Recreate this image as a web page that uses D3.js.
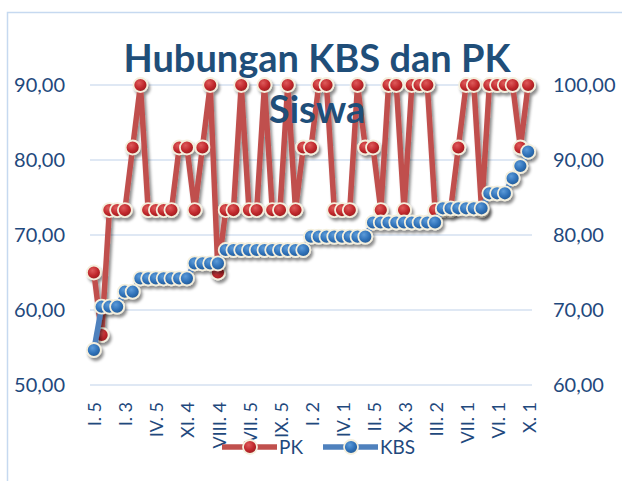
<!DOCTYPE html>
<html>
<head>
<meta charset="utf-8">
<script src="https://cdn.jsdelivr.net/npm/d3@7"></script>
<style>
  body { margin: 0; background: #fff; }
  svg { display: block; }
</style>
</head>
<body>
<script>
// data
var tickLabels = ["I. 5", "I. 3", "IV. 5", "XI. 4", "VIII. 4", "VII. 5", "IX. 5", "I. 2",
                  "IV. 1", "II. 5", "X. 3", "III. 2", "VII. 1", "VI. 1", "X. 1"];

// PK (left axis)
var pk = [65, 56.67, 73.33, 73.33, 73.33, 81.67, 90, 73.33, 73.33, 73.33,
          73.33, 81.67, 81.67, 73.33, 81.67, 90, 65, 73.33, 73.33, 90,
          73.33, 73.33, 90, 73.33, 73.33, 90, 73.33, 81.67, 81.67, 90,
          90, 73.33, 73.33, 73.33, 90, 81.67, 81.67, 73.33, 90, 90,
          73.33, 90, 90, 90, 73.33, 73.33, 73.33, 81.67, 90, 90,
          73.33, 90, 90, 90, 90, 81.67, 90];

// KBS (right axis)
var kbs = [64.67, 70.44, 70.44, 70.44, 72.44, 72.44, 74.22, 74.22, 74.22, 74.22,
           74.22, 74.22, 74.22, 76.22, 76.22, 76.22, 76.22, 78, 78, 78,
           78, 78, 78, 78, 78, 78, 78, 78, 79.78, 79.78,
           79.78, 79.78, 79.78, 79.78, 79.78, 79.78, 81.67, 81.67, 81.67, 81.67,
           81.67, 81.67, 81.67, 81.67, 81.67, 83.56, 83.56, 83.56, 83.56, 83.56,
           83.56, 85.56, 85.56, 85.56, 87.56, 89.2, 91.11];

var leftTicks = [50, 60, 70, 80, 90];
var rightTicks = [60, 70, 80, 90, 100];

var width = 622, height = 481;
var textColor = "#1F497D";
var fontFam = "Lato, 'Open Sans', sans-serif";

var svg = d3.select("body").append("svg")
    .attr("width", width)
    .attr("height", height);

var defs = svg.append("defs");
var f = defs.append("filter").attr("id", "shadow")
    .attr("x", "-20%").attr("y", "-20%").attr("width", "140%").attr("height", "140%");
f.append("feDropShadow")
    .attr("dx", 2).attr("dy", 3).attr("stdDeviation", 1.6)
    .attr("flood-color", "#000").attr("flood-opacity", 0.45);

function grad(id, c0, c1, c2) {
  var g = defs.append("radialGradient").attr("id", id)
      .attr("cx", "40%").attr("cy", "35%").attr("r", "65%");
  g.append("stop").attr("offset", "0%").attr("stop-color", c0);
  g.append("stop").attr("offset", "60%").attr("stop-color", c1);
  g.append("stop").attr("offset", "100%").attr("stop-color", c2);
}
grad("gRed", "#DE5A5A", "#C0282C", "#9A1E21");
grad("gBlue", "#5C9BD9", "#2F71B8", "#245A94");

// chart frame
svg.append("rect")
    .attr("x", 7.5).attr("y", 12.5)
    .attr("width", 700).attr("height", 600)
    .attr("fill", "#fff")
    .attr("stroke", "#C6D9F0")
    .attr("stroke-width", 1.5);

var x = d3.scaleBand().domain(d3.range(pk.length)).range([90, 532]);
var cx = function(i) { return x(i) + x.bandwidth() / 2; };
var yL = d3.scaleLinear().domain([50, 90]).range([385, 85]);
var yR = d3.scaleLinear().domain([60, 100]).range([385, 85]);

// gridlines
svg.append("g").selectAll("line").data(leftTicks).join("line")
    .attr("x1", 90).attr("x2", 532)
    .attr("y1", function(d) { return yL(d); })
    .attr("y2", function(d) { return yL(d); })
    .attr("stroke", "#D4E0F1")
    .attr("stroke-width", 1.5);

var fmt = function(d) { return d.toFixed(2).replace(".", ","); };

var gl = svg.append("g").attr("transform", "translate(90,0)")
    .call(d3.axisLeft(yL).tickValues(leftTicks).tickFormat(fmt).tickSize(0).tickPadding(25));
var gr = svg.append("g").attr("transform", "translate(532,0)")
    .call(d3.axisRight(yR).tickValues(rightTicks).tickFormat(fmt).tickSize(0).tickPadding(21));
[gl, gr].forEach(function(g) {
  g.select(".domain").remove();
  g.selectAll("text")
      .attr("fill", textColor)
      .style("font-family", fontFam)
      .style("font-size", "20px");
});

var gx = svg.append("g").attr("transform", "translate(0,385)")
    .call(d3.axisBottom(x).tickValues(d3.range(0, pk.length, 4))
      .tickFormat(function(d) { return tickLabels[d / 4]; }).tickSize(0));
gx.select(".domain").remove();
gx.selectAll("text")
    .attr("transform", "rotate(-90)")
    .attr("x", -17).attr("y", 0).attr("dy", "0.42em")
    .attr("text-anchor", "end")
    .attr("fill", textColor)
    .style("font-family", fontFam)
    .style("font-size", "18px");

function drawSeries(vals, y, lineColor, gradId) {
  var g = svg.append("g").attr("filter", "url(#shadow)");
  g.append("path")
      .datum(vals)
      .attr("fill", "none")
      .attr("stroke", lineColor)
      .attr("stroke-width", 5.5)
      .attr("stroke-linejoin", "round")
      .attr("d", d3.line().x(function(d, i) { return cx(i); }).y(function(d) { return y(d); }));
  g.selectAll("circle").data(vals).join("circle")
      .attr("cx", function(d, i) { return cx(i); })
      .attr("cy", function(d) { return y(d); })
      .attr("r", 7)
      .attr("fill", "url(#" + gradId + ")")
      .attr("stroke", "#F4EFDD")
      .attr("stroke-width", 1.8);
}
drawSeries(pk, yL, "#C0504D", "gRed");
drawSeries(kbs, yR, "#4F81BD", "gBlue");

// title, on top of the lines
var title = svg.append("text")
    .attr("x", 317).attr("text-anchor", "middle")
    .attr("fill", "#1F4E79")
    .style("font-family", fontFam)
    .style("font-weight", "bold")
    .style("font-size", "38px");
title.append("tspan").attr("x", 317).attr("y", 72).text("Hubungan KBS dan PK");
title.append("tspan").attr("x", 317).attr("y", 123).text("Siswa");

// legend
var legend = [
  {name: "PK", color: "#C0504D", grad: "gRed", x0: 222},
  {name: "KBS", color: "#4F81BD", grad: "gBlue", x0: 323}
];
var lg = svg.append("g").selectAll("g").data(legend).join("g")
    .attr("transform", function(d) { return "translate(" + d.x0 + ",447)"; });
lg.append("line")
    .attr("x1", 0).attr("x2", 55)
    .attr("stroke", function(d) { return d.color; })
    .attr("stroke-width", 5.5);
lg.append("circle")
    .attr("cx", 28).attr("r", 7)
    .attr("fill", function(d) { return "url(#" + d.grad + ")"; })
    .attr("stroke", "#F4EFDD").attr("stroke-width", 1.8);
lg.append("text")
    .attr("x", 57).attr("dy", "0.36em")
    .attr("fill", textColor)
    .style("font-family", fontFam)
    .style("font-size", "19px")
    .text(function(d) { return d.name; });
</script>
</body>
</html>
